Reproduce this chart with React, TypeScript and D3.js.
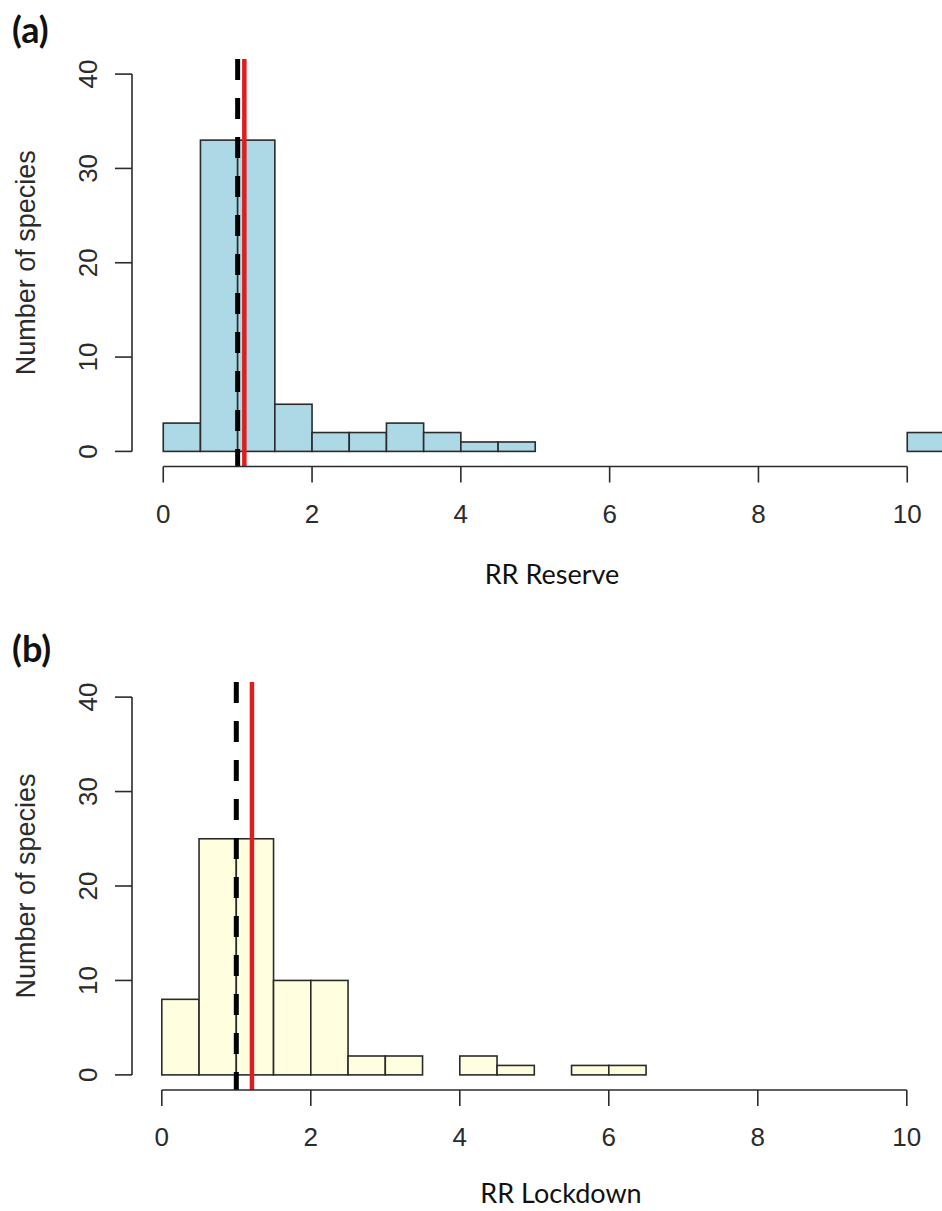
import React from "react";
import * as d3 from "d3";

// ---- data ----
const binWidth = 0.5;
const countsReserve = [3, 33, 33, 5, 2, 2, 3, 2, 1, 1, 0, 0, 0, 0, 0, 0, 0, 0, 0, 0, 2];
const countsLockdown = [8, 25, 25, 10, 10, 2, 2, 0, 2, 1, 0, 1, 1];
const xTicks = [0, 2, 4, 6, 8, 10];
const yTicks = [0, 10, 20, 30, 40];
const refLine = 1;
const meanReserve = 1.09;
const meanLockdown = 1.21;
const panelLetters = ["(a)", "(b)"];
const xTitles = ["RR Reserve", "RR Lockdown"];
const yTitle = "Number of species";

const INK = "#2b2b2b";

type PanelProps = {
  counts: number[];
  fill: string;
  mean: number;
  xDomain: [number, number];
  xRange: [number, number];
  top: number;
  bottom: number;
  letter: string;
  letterY: number;
  xTitle: string;
  xTitleX: number;
  xTitleY: number;
};

function Panel(p: PanelProps) {
  const x = d3.scaleLinear().domain(p.xDomain).range(p.xRange);
  const y = d3.scaleLinear().domain([-1.6, 41.6]).range([p.bottom, p.top]);
  const bins = p.counts.map((c, i) => ({ x0: i * binWidth, x1: (i + 1) * binWidth, c }));
  const axisY = p.bottom;
  const axisX = p.xRange[0];
  return (
    <g>
      <text x={12} y={p.letterY} fontFamily="Lato, 'Open Sans', sans-serif" fontWeight="bold" fontSize={36} fill="#111">
        {p.letter}
      </text>
      {bins.map((b, i) => (
        <rect
          key={i}
          x={x(b.x0)}
          y={y(b.c)}
          width={x(b.x1) - x(b.x0)}
          height={y(0) - y(b.c)}
          fill={p.fill}
          stroke={INK}
          strokeWidth={1.6}
        />
      ))}
      {/* reference lines */}
      <line x1={x(refLine)} x2={x(refLine)} y1={p.top} y2={p.bottom} stroke="#000" strokeWidth={5} strokeDasharray="21 18" />
      <line x1={x(p.mean)} x2={x(p.mean)} y1={p.top} y2={p.bottom} stroke="#dd1e1e" strokeWidth={4.5} />
      {/* y axis */}
      <line x1={axisX} x2={axisX} y1={y(0)} y2={y(40)} stroke={INK} strokeWidth={1.6} />
      {yTicks.map((t) => (
        <g key={t}>
          <line x1={axisX - 17} x2={axisX} y1={y(t)} y2={y(t)} stroke={INK} strokeWidth={1.6} />
          <text
            transform={`translate(${axisX - 35},${y(t)}) rotate(-90)`}
            textAnchor="middle"
            fontFamily="'Liberation Sans', Arial, sans-serif"
            fontSize={26}
            fill={INK}
          >
            {t}
          </text>
        </g>
      ))}
      <text
        transform={`translate(${axisX - 97},${(p.top + p.bottom) / 2}) rotate(-90)`}
        textAnchor="middle"
        fontFamily="'Liberation Sans', Arial, sans-serif"
        fontSize={27}
        fill={INK}
      >
        {yTitle}
      </text>
      {/* x axis */}
      <line x1={x(0)} x2={x(10)} y1={axisY} y2={axisY} stroke={INK} strokeWidth={1.6} />
      {xTicks.map((t) => (
        <g key={t}>
          <line x1={x(t)} x2={x(t)} y1={axisY} y2={axisY + 16} stroke={INK} strokeWidth={1.6} />
          <text x={x(t)} y={axisY + 56} textAnchor="middle" fontFamily="'Liberation Sans', Arial, sans-serif" fontSize={26} fill={INK}>
            {t}
          </text>
        </g>
      ))}
      <text x={p.xTitleX} y={p.xTitleY} textAnchor="middle" fontFamily="Lato, 'Open Sans', sans-serif" fontSize={27} fill="#111">
        {p.xTitle}
      </text>
    </g>
  );
}

export default function App() {
  return (
    <svg
      width={942}
      height={1211}
      style={{ position: "absolute", left: 0, top: 0, background: "#fff" }}
    >
      <rect width={942} height={1211} fill="#fff" />
      <Panel
        counts={countsReserve}
        fill="#ADD8E6"
        mean={meanReserve}
        xDomain={[-0.42, 10.92]}
        xRange={[132, 132 + 11.34 * 74.4]}
        top={59}
        bottom={466.5}
        letter={panelLetters[0]}
        letterY={43}
        xTitle={xTitles[0]}
        xTitleX={552}
        xTitleY={584}
      />
      <Panel
        counts={countsLockdown}
        fill="#FFFFE0"
        mean={meanLockdown}
        xDomain={[-0.4, 10.4]}
        xRange={[132, 132 + 10.8 * 74.5]}
        top={682}
        bottom={1090}
        letter={panelLetters[1]}
        letterY={662}
        xTitle={xTitles[1]}
        xTitleX={561}
        xTitleY={1203}
      />
    </svg>
  );
}
